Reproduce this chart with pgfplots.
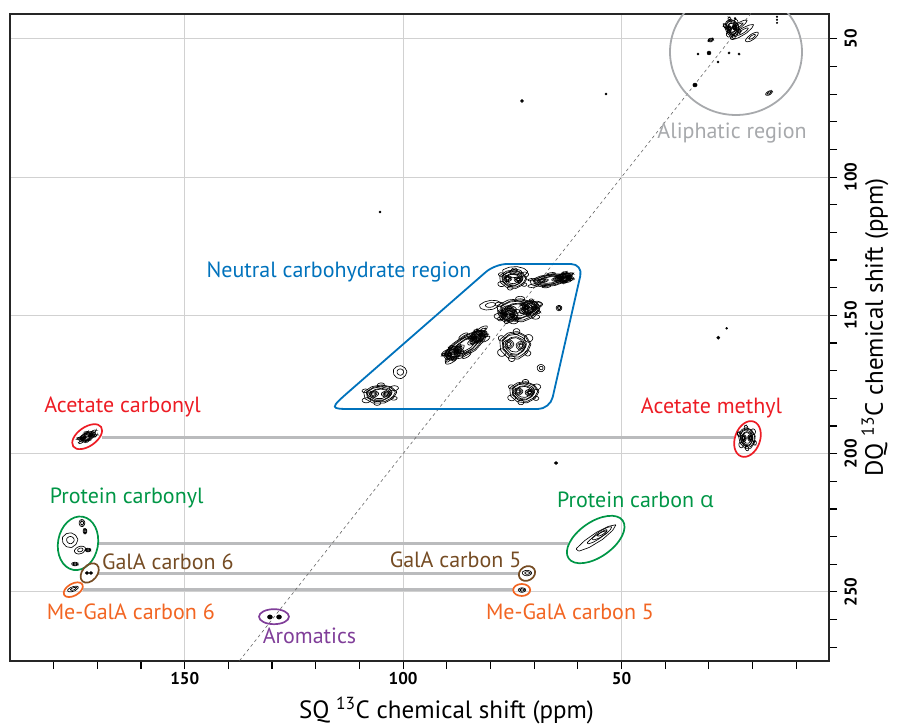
\documentclass[border=0pt]{standalone}
\usepackage{pgfplots}
\pgfplotsset{compat=1.18}
\usepackage{pgfplotstable}
\usepackage{fontspec}
\setmainfont{PT Sans}
\newfontfamily\grk{Open Sans}
\definecolor{cblue}{RGB}{0,114,188}
\definecolor{cred}{RGB}{237,28,36}
\definecolor{cgreen}{RGB}{0,150,70}
\definecolor{cbrown}{RGB}{117,76,36}
\definecolor{corange}{RGB}{242,101,34}
\definecolor{cpurple}{RGB}{128,62,153}
\definecolor{cgray}{RGB}{167,169,172}
\definecolor{lgray}{RGB}{186,187,189}
\newcommand\lab{\fontsize{22}{26}\selectfont}
\newcommand\bloop[3]{\draw[black,line width=0.65pt,rounded corners=0.6pt] ({#1+#3*1},{#2+#3*0.05}) -- ({#1+#3*0.7},{#2+#3*0.6}) -- ({#1+#3*0.15},{#2+#3*0.9}) -- ({#1-#3*0.45},{#2+#3*0.8}) -- ({#1-#3*0.95},{#2+#3*0.35}) -- ({#1-#3*0.9},{#2-#3*0.35}) -- ({#1-#3*0.45},{#2-#3*0.85}) -- ({#1+#3*0.2},{#2-#3*0.95}) -- ({#1+#3*0.75},{#2-#3*0.55}) -- cycle;}
\pgfdeclareplotmark{blob}{%
  \bloop{0}{0}{1}\bloop{0.04}{0.02}{0.88}\bloop{-0.03}{0.03}{0.76}\bloop{0.02}{-0.02}{0.64}\bloop{0}{0.02}{0.52}%
  \bloop{-0.4}{0.05}{0.34}\bloop{-0.4}{0.05}{0.24}\bloop{-0.4}{0.05}{0.14}%
  \bloop{0.38}{-0.05}{0.32}\bloop{0.38}{-0.05}{0.22}\bloop{0.38}{-0.05}{0.12}%
  \bloop{0.85}{0.45}{0.28}\bloop{-0.82}{-0.5}{0.28}\bloop{0.1}{0.9}{0.22}\bloop{-0.2}{-0.9}{0.22}%
  \bloop{-0.85}{0.45}{0.2}\bloop{0.8}{-0.55}{0.2}}
\pgfdeclareplotmark{ring}{\bloop{0}{0}{1}\bloop{0.05}{0}{0.5}}
\pgfdeclareplotmark{dotm}{\fill[black] (0,0) circle [radius=1];}

\pgfplotstableread{
x y sx sy rot
74.84 136.84 14 10 0
66.37 137.20 21 6.5 8
63.00 136.30 8 5 10
73.70 148.05 22 12.5 0
75.90 149.80 10 8 0
70.90 147.20 10 8 0
85.60 160.71 25 10 32
88.60 163.60 10 7 30
82.90 157.50 9 6 30
74.39 160.71 16 15 0
105.29 178.43 17 10 5
72.32 177.71 15 11.5 0
172.33 193.87 9.5 4.5 25
21.27 194.34 8.5 11.5 10
24.71 46.06 7 10 20
}\blobtab
\pgfplotstableread{
x y sx sy rot
74.39 134.31 13 6 0
80.11 146.24 11 5 10
68.43 169.03 4 4 0
100.71 170.47 7 7 0
64.31 147.33 3 3 0
176.26 231.23 8 8 0
173.97 234.85 6 4 20
173.52 225.08 3 4 0
172.83 228.03 2 3 0
172.14 234.85 3 2 0
175.12 239.91 3.5 2 0
55.84 230.51 24 5 33
54.50 228.80 12 3 33
71.64 243.17 5 3 0
175.58 248.95 6 2.5 20
72.78 249.31 4 2.5 0
22.42 47.51 14 3.5 32
23.50 45.50 12 3 32
20.13 49.32 8 3 35
29.58 50.40 3 2 20
16.24 69.57 4 2 30
}\ringtab
\pgfplotstableread{
x y sx sy rot
172.37 243.17 1.8 1.5 0
171.46 243.17 1.8 1.5 0
130.48 259.08 2.5 2.2 0
128.41 259.08 2.5 2.2 0
64.99 203.39 1.8 1.5 0
72.78 72.46 1.5 1.5 0
53.55 69.93 1 1 0
105.29 112.61 1 1 0
27.84 158.07 1.6 1.6 0
25.92 154.67 1 1 0
32.49 55.47 1 1 0
29.97 55.10 2 2 0
27.91 58.36 1 1 0
25.39 55.10 1.2 1.2 0
23.10 55.47 1.2 1.2 0
33.18 66.68 2.2 2 0
14.40 42.0 0.8 0.8 0
14.40 43.1 0.8 0.8 0
14.40 44.2 0.8 0.8 0
24.0 42.6 1 1 0
}\dottab
\pgfplotstableread{
x y
140 280
15 30
}\diagtab

\pgfplotsset{contour marks/.style={scatter, only marks, point meta=y,
  visualization depends on={\thisrow{sx} \as \msx},
  visualization depends on={\thisrow{sy} \as \msy},
  visualization depends on={\thisrow{rot} \as \mrot},
  scatter/@pre marker code/.code={\scope[rotate=\mrot,x=\msx pt,y=\msy pt]},
  scatter/@post marker code/.code={\endscope}}}

\begin{document}
\begin{tikzpicture}
\begin{axis}[
  scale only axis, width=819pt, height=647pt,
  x dir=reverse, y dir=reverse,
  xmin=2.5, xmax=190, ymin=41, ymax=275,
  xtick={50,100,150}, ytick={50,100,150,200,250},
  minor xtick={10,20,...,180}, minor ytick={60,70,...,270},
  xtick pos=left, ytick pos=right,
  tick align=outside,
  major tick length=8pt, minor tick length=8pt,
  tick style={black, line width=1.2pt},
  axis line style={line width=1.5pt, black!85},
  grid=major, major grid style={line width=0.8pt, black!18},
  /pgf/number format/assume math mode=true,
  ticklabel style={font=\fontsize{17}{20}\selectfont\bfseries},
  yticklabel style={rotate=90, anchor=north},
  yticklabel shift=4pt,
  xlabel={SQ \textsuperscript{13}C chemical shift (ppm)},
  ylabel={DQ \textsuperscript{13}C chemical shift (ppm)},
  label style={font=\fontsize{25}{29}\selectfont},
  xlabel style={xshift=27pt}, xlabel shift=5pt,
  ylabel style={xshift=10pt, inner sep=1pt}, ylabel shift=0pt,
]
% connecting lines
\draw[lgray, line width=3pt] (axis cs:168.94,194.34) -- (axis cs:24.24,194.34);
\draw[lgray, line width=3pt] (axis cs:169.85,232.43) -- (axis cs:62.25,232.43);
\draw[lgray, line width=3pt] (axis cs:169.85,243.35) -- (axis cs:73.47,243.35);
\draw[lgray, line width=3pt] (axis cs:173.36,249.06) -- (axis cs:74.84,249.06);
% diagonal
\addplot[black!60, dashed, dash pattern=on 3pt off 3pt, line width=0.6pt] table[x=x,y=y] {\diagtab};
% contours
\addplot[contour marks, mark=blob] table[x=x,y=y] {\blobtab};
\addplot[contour marks, mark=ring] table[x=x,y=y] {\ringtab};
\addplot[contour marks, mark=dotm] table[x=x,y=y] {\dottab};
% region outlines
\draw[cblue, line width=1.8pt, rounded corners=12pt] (axis cs:78.96,131.42) -- (axis cs:58.82,131.42) -- (axis cs:66.37,183.86) -- (axis cs:108.73,183.86) .. controls (axis cs:116.97,183.86) .. (axis cs:109.73,173.87) -- cycle;
\draw[cgray, line width=1.8pt] (axis cs:23.79,54.74) ellipse [x radius=66pt, y radius=63pt];
\draw[cred, line width=1.7pt, rotate around={35:(axis cs:172.33,193.87)}] (axis cs:172.33,193.87) ellipse [x radius=17pt, y radius=9.5pt];
\draw[cred, line width=1.7pt, rotate around={-20:(axis cs:21.16,194.71)}] (axis cs:21.16,194.71) ellipse [x radius=12.5pt, y radius=18.5pt];
\draw[cgreen, line width=1.7pt, rotate around={-10:(axis cs:174.43,232.43)}] (axis cs:174.43,232.43) ellipse [x radius=20pt, y radius=27pt];
\draw[cgreen, line width=1.7pt, rotate around={35:(axis cs:55.91,231.06)}] (axis cs:55.91,231.06) ellipse [x radius=33pt, y radius=17.5pt];
\draw[cbrown, line width=1.7pt, rotate around={50:(axis cs:171.75,243.17)}] (axis cs:171.75,243.17) ellipse [x radius=11pt, y radius=7.5pt];
\draw[cbrown, line width=1.7pt, rotate around={30:(axis cs:71.64,243.35)}] (axis cs:71.64,243.35) ellipse [x radius=8.5pt, y radius=7pt];
\draw[corange, line width=1.7pt, rotate around={30:(axis cs:175.51,249.21)}] (axis cs:175.51,249.21) ellipse [x radius=10.5pt, y radius=6pt];
\draw[corange, line width=1.7pt] (axis cs:72.85,249.31) ellipse [x radius=8.5pt, y radius=6pt];
\draw[cpurple, line width=1.7pt] (axis cs:129.56,258.97) ellipse [x radius=15pt, y radius=7.5pt];
% labels
\node[cblue, font=\lab] at (axis cs:114.68,134.31) {Neutral carbohydrate region};
\node[cgray, font=\lab] at (axis cs:24.7,84.04) {Aliphatic region};
\node[cred, font=\lab] at (axis cs:164.24,183.13) {Acetate carbonyl};
\node[cred, font=\lab] at (axis cs:29.4,183.6) {Acetate methyl};
\node[cgreen, font=\lab] at (axis cs:163.3,216.15) {Protein carbonyl};
\node[cgreen, font=\lab] at (axis cs:46.84,216.77) {Protein carbon {\grk α}};
\node[cbrown, font=\lab] at (axis cs:153.87,239.08) {GalA carbon 6};
\node[cbrown, font=\lab] at (axis cs:88.0,238.47) {GalA carbon 5};
\node[corange, font=\lab] at (axis cs:162.34,257.17) {Me-GalA carbon 6};
\node[corange, font=\lab] at (axis cs:61.8,257.17) {Me-GalA carbon 5};
\node[cpurple, font=\lab] at (axis cs:121.43,265.95) {Aromatics};
\end{axis}
\path ([shift={(-10pt,-67pt)}]current axis.south west) rectangle ([shift={(68pt,14pt)}]current axis.north east);
\end{tikzpicture}
\end{document}
